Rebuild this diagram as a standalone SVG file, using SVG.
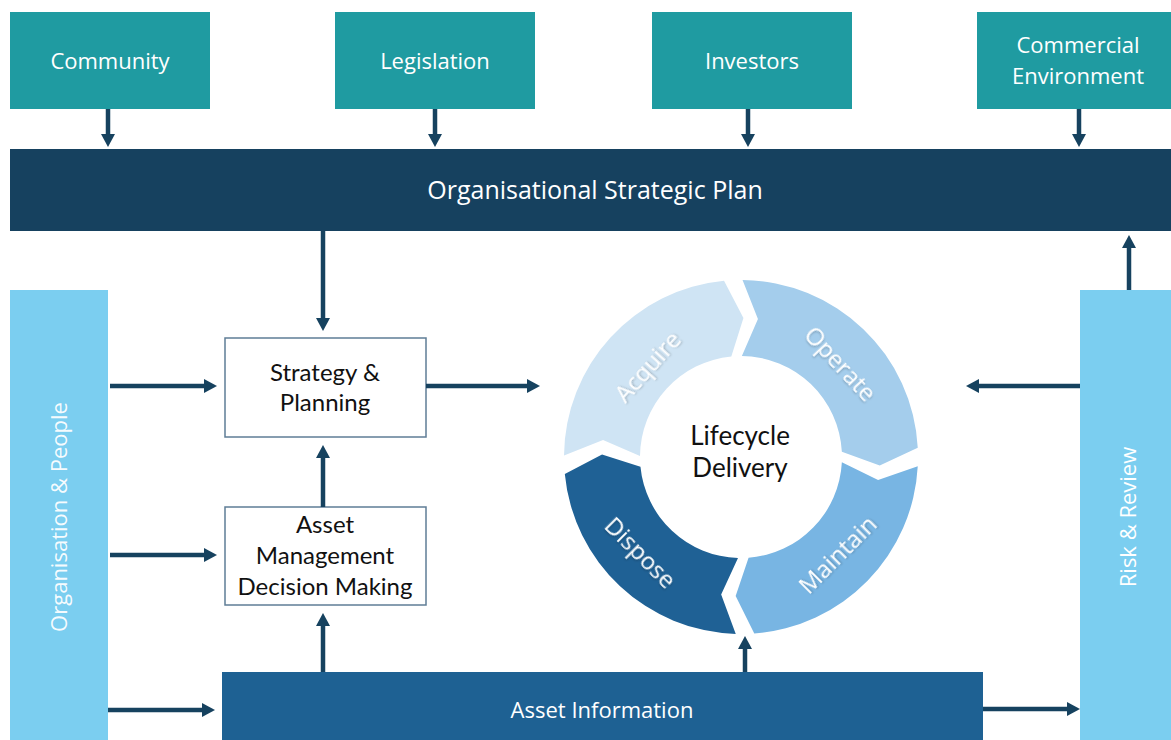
<svg xmlns="http://www.w3.org/2000/svg" width="1171" height="740" viewBox="0 0 1171 740">
  <style>
    .teal { fill: #1f9ba1; }
    .lbl { font-family: "Open Sans", "Noto Sans", sans-serif; fill: #ffffff; text-anchor: middle; }
    .box { fill: #ffffff; stroke: #5f7d96; stroke-width: 1.5; }
    .dark { font-family: Lato, "Liberation Sans", sans-serif; fill: #111111; text-anchor: middle; }
    .side { fill: #7bcef0; }
    .conn { stroke: #16425f; stroke-width: 4.5; fill: none; marker-end: url(#head); }
    .seg-text { font-family: "Open Sans", "Noto Sans", sans-serif; font-size: 24px; fill: #ffffff; text-anchor: middle; filter: url(#soft); }
  </style>
  <defs>
    <marker id="head" markerUnits="userSpaceOnUse" markerWidth="13" markerHeight="14" viewBox="0 0 13 14" refX="1" refY="7" orient="auto">
      <path d="M0,0 L13,7 L0,14 Z" fill="#16425f"/>
    </marker>
    <filter id="soft" x="-20%" y="-40%" width="140%" height="180%">
      <feDropShadow dx="1" dy="1" stdDeviation="1" flood-color="#000000" flood-opacity="0.25"/>
    </filter>
  </defs>

  <rect width="1171" height="740" fill="#ffffff"/>

  <!-- external drivers -->
  <g id="community">
    <rect class="teal" x="10" y="12" width="200" height="97"/>
    <text class="lbl" x="110" y="69" font-size="22">Community</text>
  </g>
  <g id="legislation">
    <rect class="teal" x="335" y="12" width="200" height="97"/>
    <text class="lbl" x="435" y="69" font-size="22">Legislation</text>
  </g>
  <g id="investors">
    <rect class="teal" x="652" y="12" width="200" height="97"/>
    <text class="lbl" x="752" y="69" font-size="22">Investors</text>
  </g>
  <g id="commercial">
    <rect class="teal" x="977" y="12" width="200" height="97"/>
    <text class="lbl" x="1078" y="53" font-size="22">Commercial</text>
    <text class="lbl" x="1078" y="84" font-size="22">Environment</text>
  </g>

  <!-- strategic plan bar -->
  <g id="strategic-plan">
    <rect x="10" y="149" width="1161" height="82" fill="#16415f"/>
    <text class="lbl" x="595" y="199" font-size="25">Organisational Strategic Plan</text>
  </g>

  <!-- side bars -->
  <g id="organisation-people">
    <rect class="side" x="10" y="290" width="98" height="450"/>
    <text class="lbl" x="0" y="0" font-size="22" fill-opacity="0.95" transform="translate(67,517) rotate(-90)">Organisation &amp; People</text>
  </g>
  <g id="risk-review">
    <rect class="side" x="1080" y="290" width="91" height="450"/>
    <text class="lbl" x="0" y="0" font-size="22" transform="translate(1136,517) rotate(-90)">Risk &amp; Review</text>
  </g>

  <!-- process boxes -->
  <g id="strategy-planning">
    <rect class="box" x="225" y="338" width="201" height="99"/>
    <text class="dark" x="325" y="381" font-size="24">Strategy &amp;</text>
    <text class="dark" x="325" y="411" font-size="24">Planning</text>
  </g>
  <g id="decision-making">
    <rect class="box" x="225" y="507" width="201" height="98"/>
    <text class="dark" x="325" y="533" font-size="24">Asset</text>
    <text class="dark" x="325" y="564" font-size="24">Management</text>
    <text class="dark" x="325" y="595" font-size="24">Decision Making</text>
  </g>

  <g id="asset-information">
    <rect x="222" y="672" width="761" height="68" fill="#1e6193"/>
    <text class="lbl" x="602" y="718" font-size="22">Asset Information</text>
  </g>

  <!-- lifecycle ring -->
  <g id="lifecycle">
    <path id="acquire" fill="#cfe4f4" d="M564.01,455.46 A177,177 0 0 1 724.03,280.81 L743.43,318.02 L731.32,356.46 A101,101 0 0 0 640.00,456.12 L603.04,440.06 Z"/>
    <path id="operate" fill="#a4cdec" d="M742.54,280.01 A177,177 0 0 1 917.76,447.74 L879.74,465.49 L841.86,451.71 A101,101 0 0 0 741.88,356.00 L757.94,319.04 Z"/>
    <path id="maintain" fill="#78b5e3" d="M917.76,466.26 A177,177 0 0 1 754.27,633.50 L735.66,595.90 L748.57,557.72 A101,101 0 0 0 841.86,462.29 L878.09,479.94 Z"/>
    <path id="dispose" fill="#1f6195" d="M735.75,633.92 A177,177 0 0 1 564.81,473.97 L602.02,454.57 L640.46,466.68 A101,101 0 0 0 738.00,557.96 L721.17,594.58 Z"/>
    <text class="seg-text" transform="translate(648,367) rotate(-48)" y="8">Acquire</text>
    <text class="seg-text" transform="translate(840,364) rotate(47)" y="8">Operate</text>
    <text class="seg-text" transform="translate(838,555) rotate(-45)" y="8">Maintain</text>
    <text class="seg-text" transform="translate(640,553) rotate(45)" y="8">Dispose</text>
    <text class="dark" x="740" y="445" font-size="26">Lifecycle</text>
    <text class="dark" x="740" y="477" font-size="26">Delivery</text>
  </g>

  <!-- connectors -->
  <g id="connectors">
    <line class="conn" x1="108" y1="109" x2="108" y2="135"/>
    <line class="conn" x1="435" y1="109" x2="435" y2="135"/>
    <line class="conn" x1="748" y1="109" x2="748" y2="135"/>
    <line class="conn" x1="1079" y1="109" x2="1079" y2="135"/>
    <line class="conn" x1="323" y1="231" x2="323" y2="319"/>
    <line class="conn" x1="110" y1="386" x2="205" y2="386"/>
    <line class="conn" x1="110" y1="555" x2="205" y2="555"/>
    <line class="conn" x1="108" y1="710" x2="203" y2="710"/>
    <line class="conn" x1="426" y1="386" x2="528" y2="386"/>
    <line class="conn" x1="1080" y1="386" x2="978" y2="386"/>
    <line class="conn" x1="1129" y1="290" x2="1129" y2="247"/>
    <line class="conn" x1="983" y1="709" x2="1068" y2="709"/>
    <line class="conn" x1="323" y1="672" x2="323" y2="625"/>
    <line class="conn" x1="323" y1="507" x2="323" y2="457"/>
    <line class="conn" x1="745" y1="672" x2="745" y2="648"/>
  </g>
</svg>
